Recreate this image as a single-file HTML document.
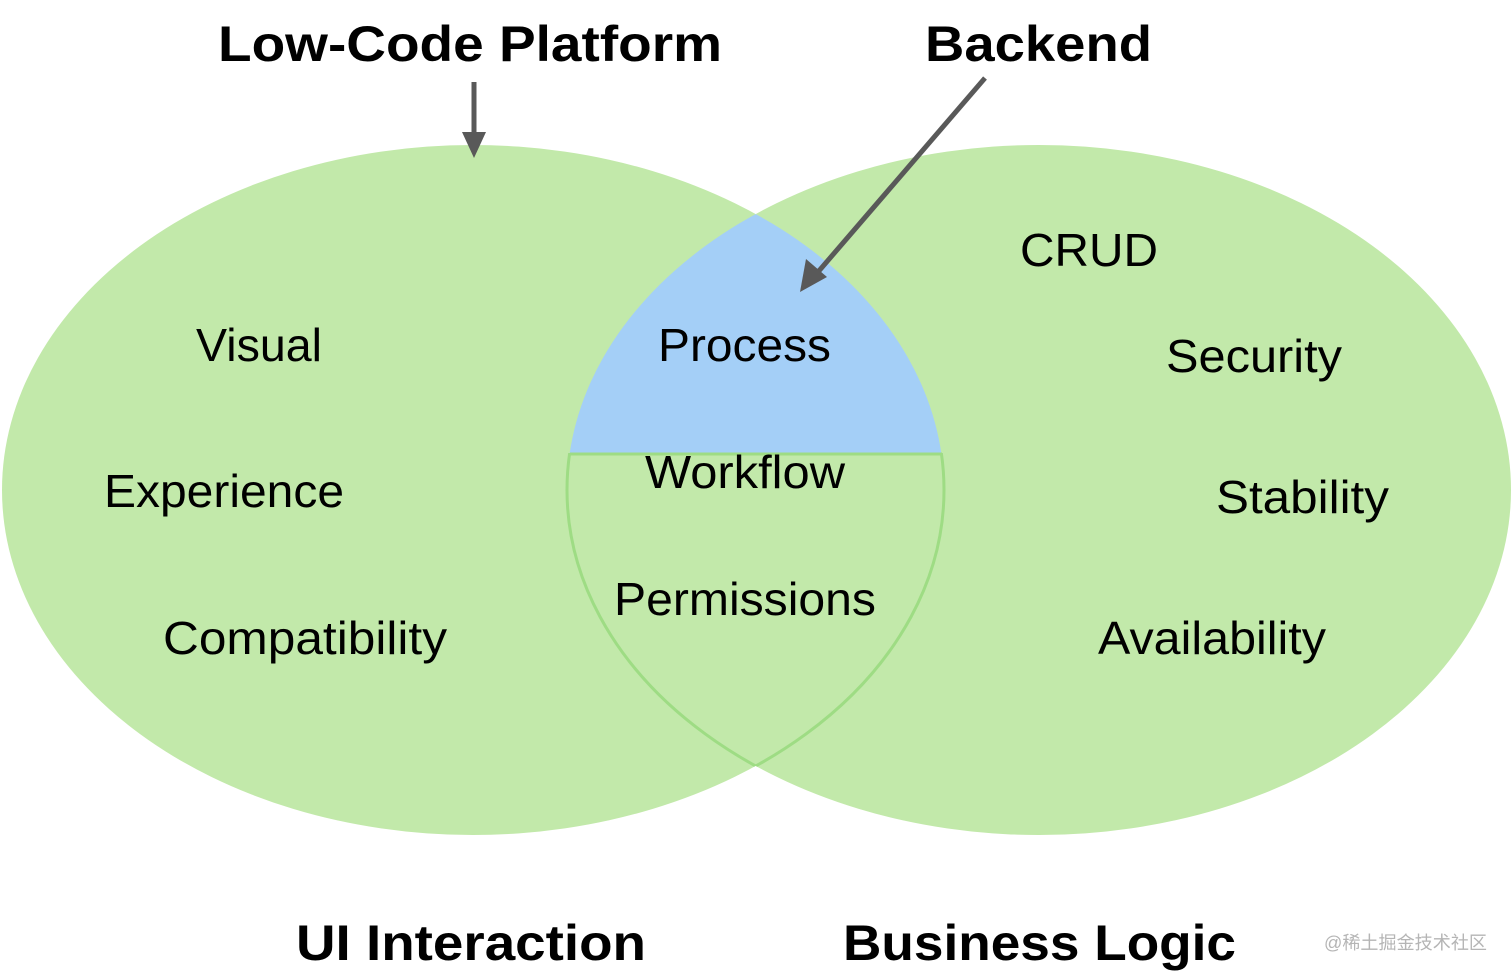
<!DOCTYPE html>
<html><head><meta charset="utf-8"><style>
html,body{margin:0;padding:0;background:#fff;}
svg{display:block;}
text{font-family:"Liberation Sans",Arial,sans-serif;fill:#000;}
</style></head><body>
<svg width="1512" height="980" viewBox="0 0 1512 980" xmlns="http://www.w3.org/2000/svg">
<defs>
<clipPath id="cr"><ellipse cx="1039" cy="490" rx="472" ry="345"/></clipPath>
<clipPath id="cl"><ellipse cx="473" cy="490" rx="471" ry="345"/></clipPath>
<clipPath id="top"><rect x="0" y="0" width="1512" height="453"/></clipPath>
<clipPath id="bot"><rect x="0" y="453" width="1512" height="600"/></clipPath>
</defs>
<ellipse cx="473" cy="490" rx="471" ry="345" fill="#c2e9aa"/>
<ellipse cx="1039" cy="490" rx="472" ry="345" fill="#c2e9aa"/>
<g clip-path="url(#top)"><g clip-path="url(#cr)"><ellipse cx="473" cy="490" rx="471" ry="345" fill="#a4cff7"/></g></g>
<g clip-path="url(#bot)">
<g clip-path="url(#cr)"><ellipse cx="473" cy="490" rx="471" ry="345" fill="none" stroke="#9edc84" stroke-width="3"/></g>
<g clip-path="url(#cl)"><ellipse cx="1039" cy="490" rx="472" ry="345" fill="none" stroke="#9edc84" stroke-width="3"/></g>
</g>
<line x1="570" y1="454" x2="942" y2="454" stroke="#9edc84" stroke-width="3"/>
<line x1="474" y1="82" x2="474" y2="138" stroke="#595959" stroke-width="5"/>
<polygon points="462,132 486,132 474,158" fill="#595959"/>
<line x1="985" y1="78" x2="818" y2="272" stroke="#595959" stroke-width="5"/>
<polygon points="800,292 806,259 827,277" fill="#595959"/>
<g font-size="50" font-weight="bold" lengthAdjust="spacingAndGlyphs">
<text x="218" y="61" textLength="504" lengthAdjust="spacingAndGlyphs">Low-Code Platform</text>
<text x="925" y="61" textLength="227" lengthAdjust="spacingAndGlyphs">Backend</text>
<text x="296" y="960" textLength="350" lengthAdjust="spacingAndGlyphs">UI Interaction</text>
<text x="843" y="960" textLength="393" lengthAdjust="spacingAndGlyphs">Business Logic</text>
</g>
<g font-size="46">
<text x="196" y="361" textLength="126" lengthAdjust="spacingAndGlyphs">Visual</text>
<text x="104" y="507" textLength="240" lengthAdjust="spacingAndGlyphs">Experience</text>
<text x="163" y="654" textLength="284" lengthAdjust="spacingAndGlyphs">Compatibility</text>
<text x="658" y="361" textLength="173" lengthAdjust="spacingAndGlyphs">Process</text>
<text x="645" y="488" textLength="200" lengthAdjust="spacingAndGlyphs">Workflow</text>
<text x="614" y="615" textLength="262" lengthAdjust="spacingAndGlyphs">Permissions</text>
<text x="1020" y="266" textLength="138" lengthAdjust="spacingAndGlyphs">CRUD</text>
<text x="1166" y="372" textLength="176" lengthAdjust="spacingAndGlyphs">Security</text>
<text x="1216" y="513" textLength="173" lengthAdjust="spacingAndGlyphs">Stability</text>
<text x="1098" y="654" textLength="228" lengthAdjust="spacingAndGlyphs">Availability</text>
</g>
<text x="1324" y="949" font-size="18" textLength="163" lengthAdjust="spacingAndGlyphs" style="fill:#b5b5b5;font-family:'Liberation Sans','Noto Sans CJK SC',sans-serif">@稀土掘金技术社区</text>
</svg>
</body></html>
